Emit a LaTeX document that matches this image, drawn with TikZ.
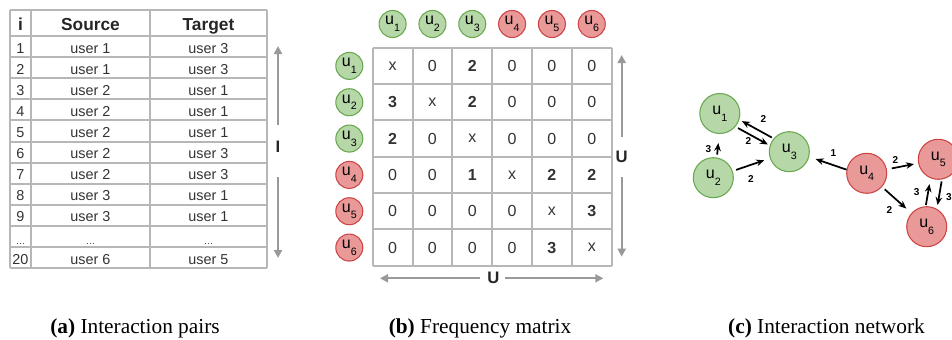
\documentclass[tikz,border=0pt]{standalone}
\usepackage{fontspec}
\setmainfont{Liberation Serif}
\newfontfamily\arial{Liberation Sans}
\usetikzlibrary{calc,arrows.meta}
\definecolor{gfill}{HTML}{B6D7A8}
\definecolor{gline}{HTML}{6AA84F}
\definecolor{rfill}{HTML}{EA9999}
\definecolor{rline}{HTML}{CC4444}
\definecolor{gridc}{HTML}{B7B7B7}
\definecolor{txt}{HTML}{333333}
\definecolor{garrow}{HTML}{999999}
\newcommand\ulab[1]{{\arial u\raisebox{-0.42em}{\fontsize{8}{8}\selectfont #1}}}
\begin{document}
\begin{tikzpicture}[x=0.75pt,y=-0.75pt,
  gridline/.style={draw=gridc,line width=1.5pt},
  thead/.style={font=\arial\bfseries\fontsize{13}{15}\selectfont,text=black!85,anchor=base},
  tcell/.style={font=\arial\fontsize{10.8}{12}\selectfont,text=txt,anchor=base},
  mcell/.style={font=\arial\fontsize{12}{14}\selectfont,text=txt},
  biglab/.style={font=\arial\bfseries\fontsize{12.5}{14}\selectfont,text=black!85},
  garr/.style={draw=garrow,line width=1.5pt,-{Triangle[length=6pt,width=6pt]}},
  smallc/.style={circle,inner sep=0pt,minimum size=20.25pt,line width=0.8pt,font=\fontsize{12}{14}\selectfont},
  bigc/.style={circle,inner sep=0pt,minimum size=30pt,line width=0.8pt,font=\fontsize{12}{14}\selectfont},
  gnode/.style={fill=gfill,draw=gline},
  rnode/.style={fill=rfill,draw=rline},
  narr/.style={line width=1.3pt,-{Stealth[length=6pt,width=5pt]}},
  wlab/.style={font=\arial\bfseries\fontsize{7.5}{8}\selectfont,inner sep=0pt},
  captxt/.style={font=\fontsize{16}{18}\selectfont,anchor=base}]
\useasboundingbox (0,0) rectangle (952,339);
\clip (0,0) rectangle (952,339);

% ---------- (a) table ----------
\foreach \x in {10,31,150,267} \draw[gridline] (\x,9.5) -- (\x,268.3);
\draw[gridline] (10,9.5) -- (267,9.5);
\foreach \k in {0,...,11} \draw[gridline] (10,36+21.12*\k) -- (267,36+21.12*\k);
\node[thead] (hi) at (20.5,30.7) {i};
\node[thead] (hs) at (90.5,30.7) {Source};
\node[thead] (ht) at (208.5,30.7) {Target};
\foreach \k/\i/\s/\t in {1/1/user 1/user 3,2/2/user 1/user 3,3/3/user 2/user 1,4/4/user 2/user 1,5/5/user 2/user 1,6/6/user 2/user 3,7/7/user 2/user 3,8/8/user 3/user 1,9/9/user 3/user 1,11/20/user 6/user 5}{
  \node[tcell] (ti\k) at (20.5,36+21.12*\k-4.1) {\i};
  \node[tcell] (ts\k) at (90.5,36+21.12*\k-4.1) {\s};
  \node[tcell] (tt\k) at (208.5,36+21.12*\k-4.1) {\t};
}
\node[tcell,font=\arial\fontsize{7}{8}\selectfont] (ti10) at (20.5,244.5) {\ldots};
\node[tcell,font=\arial\fontsize{7}{8}\selectfont] (ts10) at (90.5,244.5) {\ldots};
\node[tcell,font=\arial\fontsize{7}{8}\selectfont] (tt10) at (208.5,244.5) {\ldots};
\node[biglab] (Ilab) at (278,147) {I};
\coordinate (Itop) at (278,46);
\coordinate (Ibot) at (278,258);
\draw[garr] ($(Ilab)+(0,-22)$) -- (Itop);
\draw[garr] ($(Ilab)+(0,30)$) -- (Ibot);

% ---------- (b) matrix ----------
\foreach \k in {0,...,6} {
  \draw[gridline] (372.7+39.83*\k,47.7) -- (372.7+39.83*\k,265.7);
  \draw[gridline] (372.7,47.7+36.33*\k) -- (611.7,47.7+36.33*\k);
}
\foreach \i/\st in {1/gnode,2/gnode,3/gnode,4/rnode,5/rnode,6/rnode} {
  \node[smallc,\st] (c\i) at (392.6+39.83*\i-39.83,24) {\ulab{\i}};
  \node[smallc,\st] (r\i) at (349.3,65.9+36.33*\i-36.33) {\ulab{\i}};
}
\foreach \r/\a/\b/\cc/\d/\e/\f in {1/x/0/\textbf{2}/0/0/0,2/\textbf{3}/x/\textbf{2}/0/0/0,3/\textbf{2}/0/x/0/0/0,4/0/0/\textbf{1}/x/\textbf{2}/\textbf{2},5/0/0/0/0/x/\textbf{3},6/0/0/0/0/\textbf{3}/x} {
  \foreach[count=\c] \v in {\a,\b,\cc,\d,\e,\f}
    \node[mcell] (m\r\c) at (392.6+39.83*\c-39.83,65.9+36.33*\r-36.33) {\v};
}
\node[biglab] (Ur) at (621.7,156.7) {U};
\coordinate (Urtop) at (621.7,55);
\coordinate (Urbot) at (621.7,256.7);
\draw[garr] ($(Ur)+(0,-20)$) -- (Urtop);
\draw[garr] ($(Ur)+(0,20)$) -- (Urbot);
\node[biglab] (Ub) at (493.3,278.3) {U};
\coordinate (Ubl) at (380,278.3);
\coordinate (Ubr) at (603.3,278.3);
\draw[garr] ($(Ub)+(-13.3,0)$) -- (Ubl);
\draw[garr] ($(Ub)+(11.7,0)$) -- (Ubr);

% ---------- (c) network ----------
\node[bigc,gnode] (u1) at (719.8,113.5) {\ulab{1}};
\node[bigc,gnode] (u2) at (713.3,177.7) {\ulab{2}};
\node[bigc,gnode] (u3) at (789.3,151.7) {\ulab{3}};
\node[bigc,rnode] (u4) at (866.7,173.3) {\ulab{4}};
\node[bigc,rnode] (u5) at (938.3,159.3) {\ulab{5}};
\node[bigc,rnode] (u6) at (926.7,226.7) {\ulab{6}};

\draw[narr] ($(u1)!0.29!(u3)+(-1.95,3.5)$) -- ($(u1)!0.72!(u3)+(-1.95,3.5)$);
\draw[narr] ($(u3)!0.28!(u1)+(1.95,-3.5)$) -- ($(u3)!0.71!(u1)+(1.95,-3.5)$);
\draw[narr] ($(u2)!0.36!(u1)+(1.5,0)$) -- ($(u2)!0.54!(u1)+(1.5,0)$);
\draw[narr] ($(u2)!0.30!(u3)$) -- ($(u2)!0.67!(u3)$);
\draw[narr] ($(u4)!0.26!(u3)+(0,2)$) -- ($(u4)!0.66!(u3)$);
\draw[narr] ($(u4)!0.35!(u5)$) -- ($(u4)!0.66!(u5)$);
\draw[narr] ($(u4)!0.30!(u6)$) -- ($(u4)!0.66!(u6)$);
\draw[narr] ($(u6)!0.31!(u5)+(-4.4,-0.8)$) -- ($(u6)!0.62!(u5)+(-4.4,-0.8)$);
\draw[narr] ($(u5)!0.31!(u6)+(6.9,1.2)$) -- ($(u5)!0.66!(u6)+(6.9,1.2)$);

\node[wlab] (w31) at (763.3,119) {2};
\node[wlab] (w13) at (748.3,141) {2};
\node[wlab] (w21) at (708.3,149) {3};
\node[wlab] (w23) at (751,179) {2};
\node[wlab] (w43) at (833.3,152.7) {1};
\node[wlab] (w45) at (895.5,160) {2};
\node[wlab] (w46) at (889.3,210) {2};
\node[wlab] (w65) at (916.7,191.7) {3};
\node[wlab] (w56) at (948.8,197.5) {3};

% ---------- captions ----------
\node[captxt] (capa) at (135,333.3) {\textbf{(a)} Interaction pairs};
\node[captxt] (capb) at (480,333.3) {\textbf{(b)} Frequency matrix};
\node[captxt] (capc) at (826.5,333.3) {\textbf{(c)} Interaction network};
\end{tikzpicture}
\end{document}
